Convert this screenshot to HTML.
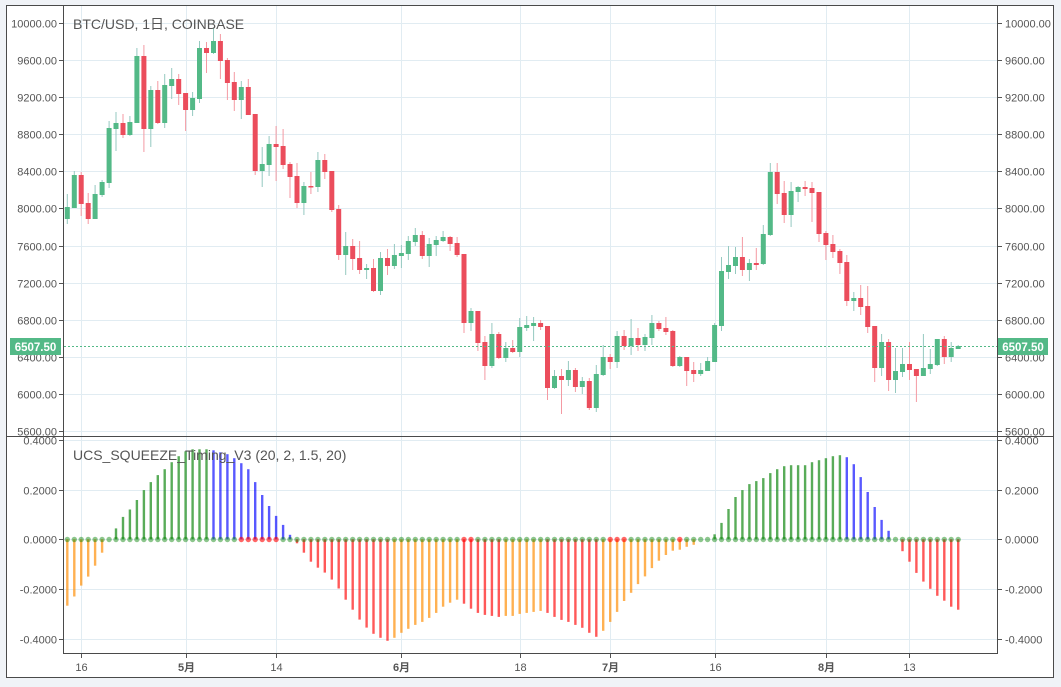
<!DOCTYPE html>
<html><head><meta charset="utf-8">
<style>
html,body{margin:0;padding:0;background:#f0f3f7;}
svg{display:block;font-family:"Liberation Sans","Noto Sans CJK JP",sans-serif;}
</style></head>
<body>
<svg id="c" width="1061" height="687" xmlns="http://www.w3.org/2000/svg"></svg>
<script>
const C=[
['G',207,219,194,224],['G',175,208,171,208],['R',175,204,172,216],['R',203,219,193,224],['G',194,219,185,219],
['G',182,195,180,197],['G',128,183,121,188],['G',123,129,112,151],['R',123,135,114,138],['G',122,135,116,136],
['G',56,123,48,123],['R',56,129,45,152],['G',90,129,86,147],['R',90,123,81,124],['G',85,123,74,128],
['G',79,86,68,99],['R',79,94,74,105],['R',93,110,93,131],['G',98,110,92,116],['G',48,99,41,103],
['R',48,53,42,73],['G',41,53,28,54],['R',41,61,34,79],['R',60,83,58,100],['R',82,100,72,111],
['G',87,100,81,119],['R',87,115,79,115],['R',114,171,114,175],['G',164,171,147,187],['G',144,165,136,176],
['R',144,147,126,181],['R',146,165,129,169],['R',164,177,162,198],['R',176,203,163,208],['G',186,203,182,215],
['R',186,187,172,194],['G',160,187,152,192],['R',160,172,154,179],['R',171,210,171,212],['R',209,255,205,260],
['G',246,255,232,275],['R',246,259,239,270],['R',258,270,241,274],['G',268,270,264,279],['R',268,291,259,292],
['G',258,291,252,295],['R',258,266,249,275],['G',255,266,244,269],['G',253,256,245,268],['G',241,254,236,260],
['G',235,242,228,246],['R',235,256,231,259],['G',244,256,238,267],['G',240,245,236,256],['G',237,241,231,242],
['R',237,244,236,251],['R',243,255,237,257],['R',254,323,254,333],['G',311,323,308,331],['R',311,343,311,351],
['R',342,366,336,380],['G',334,366,323,368],['R',334,358,332,359],['G',348,358,342,362],['R',348,352,340,353],
['G',327,352,318,357],['G',325,328,316,331],['G',323,326,317,341],['R',323,327,320,330],['R',326,388,326,400],
['G',376,388,370,389],['R',376,380,369,414],['G',370,380,361,386],['R',370,387,368,392],['G',381,387,377,394],
['R',381,408,378,410],['G',374,408,365,412],['G',357,375,345,376],['R',357,362,354,369],['G',336,362,331,368],
['R',336,346,330,350],['G',338,346,319,355],['R',338,345,328,351],['G',337,345,334,351],['G',323,338,315,345],
['R',323,329,321,331],['R',328,332,317,335],['R',331,366,330,367],['G',357,366,356,367],['R',357,371,357,386],
['R',370,374,362,382],['G',370,374,363,376],['G',361,371,357,371],['G',325,362,323,362],['G',271,326,257,331],
['G',265,272,246,279],['G',257,266,247,274],['R',257,270,237,276],['G',263,270,259,281],['R',263,265,248,270],
['G',234,264,225,265],['G',172,235,163,236],['R',172,194,163,204],['R',193,215,181,223],['G',191,215,182,227],
['G',187,192,186,202],['R',187,189,181,196],['R',188,193,182,222],['R',192,234,192,242],['R',233,245,231,260],
['R',244,252,235,258],['R',251,263,249,274],['R',262,301,255,306],['G',298,301,292,311],['R',298,307,285,315],
['R',306,327,286,333],['R',326,368,326,382],['G',342,368,334,376],['R',342,380,339,391],['G',371,380,348,393],
['G',364,372,348,377],['R',364,370,342,380],['R',369,376,369,402],['G',368,376,334,376],['G',364,369,349,374],
['G',339,365,339,366],['R',339,357,336,364],['G',348,357,342,362],['G',346,349,345,349]];
const V=[-0.267,-0.23,-0.186,-0.15,-0.106,-0.054,0,0.044,0.09,0.12,0.158,0.198,0.23,0.258,0.282,0.31,0.334,0.354,0.362,0.362,0.362,
0.358,0.35,0.342,0.326,0.306,0.282,0.23,0.178,0.134,0.094,0.058,0.018,
-0.016,-0.054,-0.09,-0.114,-0.134,-0.162,-0.198,-0.243,-0.283,-0.323,-0.355,-0.38,-0.396,-0.408,
-0.396,-0.376,-0.36,-0.344,-0.332,-0.316,-0.296,-0.271,-0.255,-0.243,
-0.259,-0.279,-0.296,-0.304,-0.308,-0.312,
-0.308,-0.308,-0.3,-0.296,-0.292,-0.288,
-0.296,-0.312,-0.324,-0.332,-0.344,-0.356,-0.376,-0.392,
-0.368,-0.332,-0.292,-0.248,-0.215,-0.18,-0.149,-0.116,-0.086,-0.063,-0.046,-0.042,-0.03,-0.022,0,0,
0.02,0.066,0.122,0.17,0.198,0.222,0.234,0.246,0.266,0.282,0.294,0.298,0.298,0.298,0.31,0.318,0.326,0.334,0.338,
0.33,0.302,0.25,0.19,0.13,0.078,0.034,0,
-0.048,-0.09,-0.135,-0.17,-0.199,-0.227,-0.247,-0.271,-0.283];
function col(i,v){
 if(v>=0){return (i>=21&&i<=32)||(i>=112)?'rgba(0,0,255,0.65)':'rgba(0,128,0,0.65)';}
 if((i<=5)||(i>=47&&i<=56)||(i>=63&&i<=68)||(i>=77&&i<=92))return 'rgba(255,140,0,0.68)';
 return 'rgba(255,0,0,0.65)';
}
const redDots=new Set([25,26,27,28,29,30,57,58,78,79,80,88]);
const X=i=>67.3+i*6.96;
const PY=p=>23+(10000-p)*0.09273;
const OY=v=>539.3-v*248.7;
let s='';
// frame
s+='<rect x="6.5" y="5.5" width="1047" height="672" fill="#fff" stroke="#4a4a4a"/>';
// grid
const vx=[[2,'16'],[17,'5月'],[30,'14'],[48,'6月'],[65,'18'],[78,'7月'],[93,'16'],[109,'8月'],[121,'13']];
for(const [i] of vx){const x=Math.round(X(i))+0.5;s+=`<line x1="${x}" y1="6" x2="${x}" y2="653" stroke="#e1ecf2"/>`;}
for(let p=5600;p<=10000;p+=400){const y=Math.round(PY(p))+0.5;s+=`<line x1="64" y1="${y}" x2="997" y2="${y}" stroke="#e1ecf2"/>`;
 const t=p.toFixed(2);s+=`<text x="57" y="${y+4}" font-size="11" fill="#555" text-anchor="end">${t}</text><text x="1005" y="${y+4}" font-size="11" fill="#555">${t}</text>`;
 s+=`<line x1="59" y1="${y}" x2="63" y2="${y}" stroke="#555"/><line x1="998" y1="${y}" x2="1002" y2="${y}" stroke="#555"/>`;}
for(const v of [0.4,0.2,0,-0.2,-0.4]){const y=Math.round(OY(v))+0.5;s+=`<line x1="64" y1="${y}" x2="997" y2="${y}" stroke="#e1ecf2"/>`;
 const t=v.toFixed(4);s+=`<text x="57" y="${y+4}" font-size="11" fill="#555" text-anchor="end">${t}</text><text x="1005" y="${y+4}" font-size="11" fill="#555">${t}</text>`;
 s+=`<line x1="59" y1="${y}" x2="63" y2="${y}" stroke="#555"/><line x1="998" y1="${y}" x2="1002" y2="${y}" stroke="#555"/>`;}
// candles
C.forEach((c,i)=>{const x=X(i);const g=c[0]=='G';
 s+=`<rect x="${(x-0.5).toFixed(1)}" y="${c[3]}" width="1" height="${Math.max(1,c[4]-c[3])}" fill="${g?'#95c9c0':'#f49aa3'}"/>`;
 s+=`<rect x="${(x-2.5).toFixed(1)}" y="${c[1]}" width="5" height="${Math.max(1.5,c[2]-c[1])}" fill="${g?'#53b987':'#eb4d5c'}"/>`;});
// price line
s+=`<line x1="64" y1="346.5" x2="997" y2="346.5" stroke="#53b987" stroke-dasharray="2,2"/>`;
s+=`<rect x="998" y="338" width="50" height="17" fill="#53b987"/><text x="1023" y="351" font-size="11.5" font-weight="bold" fill="#fff" text-anchor="middle">6507.50</text>`;
s+=`<rect x="10" y="338" width="51" height="17" fill="#53b987"/><text x="35.5" y="351" font-size="11.5" font-weight="bold" fill="#fff" text-anchor="middle">6507.50</text>`;
// oscillator
V.forEach((v,i)=>{if(v===0)return;const x=X(i);const y0=OY(0),y1=OY(v);
 s+=`<rect x="${(x-1.2).toFixed(1)}" y="${Math.min(y0,y1).toFixed(1)}" width="2.4" height="${Math.abs(y1-y0).toFixed(1)}" fill="${col(i,v)}"/>`;});
V.forEach((v,i)=>{const x=X(i);const r=redDots.has(i);
 s+=`<circle cx="${x.toFixed(1)}" cy="539.5" r="2.7" fill="${r?'rgba(255,0,0,0.6)':'rgba(0,128,0,0.45)'}"/>`;});
// axes lines
s+='<line x1="63.5" y1="6" x2="63.5" y2="653" stroke="#4a4a4a"/>';
s+='<line x1="997.5" y1="6" x2="997.5" y2="653" stroke="#4a4a4a"/>';
s+='<line x1="7" y1="436.5" x2="1053" y2="436.5" stroke="#4a4a4a"/>';
s+='<line x1="63" y1="653.5" x2="998" y2="653.5" stroke="#4a4a4a"/>';
for(const [i,t] of vx){const x=Math.round(X(i))+0.5;s+=`<line x1="${x}" y1="654" x2="${x}" y2="658" stroke="#555"/><text x="${x}" y="671" font-size="11" fill="#555" text-anchor="middle" ${t.includes('月')?'font-weight="bold"':''}>${t}</text>`;}
// titles
s+='<text x="73" y="29" font-size="14" fill="#555">BTC/USD, 1日, COINBASE</text>';
s+='<text x="73" y="460" font-size="14" fill="#555">UCS_SQUEEZE_Timing_V3 (20, 2, 1.5, 20)</text>';
document.getElementById('c').innerHTML=s;
</script>
</body></html>
